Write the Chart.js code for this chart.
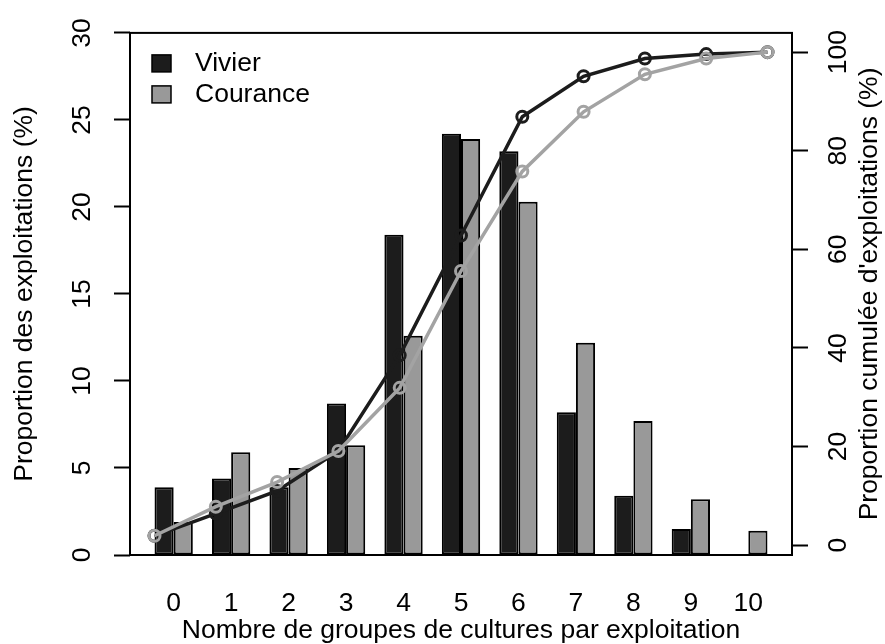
<!DOCTYPE html>
<html>
<head>
<meta charset="utf-8">
<script src="https://cdn.jsdelivr.net/npm/chart.js@4/dist/chart.umd.min.js"></script>
<style>
  html, body { margin: 0; padding: 0; background: #fff; }
  #chart { display: block; }
</style>
</head>
<body>
<canvas id="chart" width="885" height="644"></canvas>
<script>
// Nombre de groupes de cultures par exploitation
const groupes = [0, 1, 2, 3, 4, 5, 6, 7, 8, 9, 10];

// Proportion des exploitations (%) — bars
const vivierPct   = [3.9, 4.4, 3.9, 8.7, 18.4, 24.2, 23.2, 8.2, 3.4, 1.5, 0];
const courancePct = [1.9, 5.9, 5.0, 6.3, 12.6, 23.9, 20.3, 12.2, 7.7, 3.2, 1.4];

// Proportion cumulée d'exploitations (%) — lines
const vivierCum   = [1.9, 6.4, 11.0, 19.1, 38.5, 62.8, 86.9, 95.1, 98.7, 99.6, 100];
const couranceCum = [1.9, 7.8, 12.8, 19.1, 31.9, 55.6, 75.8, 87.9, 95.5, 98.7, 100];

const leftTicks  = [0, 5, 10, 15, 20, 25, 30];
const rightTicks = [0, 20, 40, 60, 80, 100];

const FONT = "'Liberation Sans', Arial, Helvetica, sans-serif";
const TXT = 26.5;
const DARK = "#1c1c1c";
const GREY = "#999999";
const LINE_GREY = "#a3a3a3";
const RIGHT_TITLE = "Proportion cumulée d'exploitations (%)";

Chart.defaults.font.family = FONT;
Chart.defaults.font.size = TXT;
Chart.defaults.color = "#000";

// R-style box around the plot region
const boxPlugin = {
  id: "rBox",
  afterDatasetsDraw(chart) {
    const { ctx, chartArea: { left, top, right, bottom } } = chart;
    ctx.save();
    ctx.strokeStyle = "#000";
    ctx.lineWidth = 2;
    ctx.strokeRect(left, top, right - left, bottom - top);
    ctx.restore();
  }
};

// legend with filled boxes, top-left inside the plot
const legendPlugin = {
  id: "rLegend",
  afterDatasetsDraw(chart) {
    const { ctx, chartArea: { left, top } } = chart;
    const bars = chart.data.datasets.filter(d => d.type === "bar");
    ctx.save();
    ctx.font = `${TXT}px ${FONT}`;
    ctx.textBaseline = "middle";
    bars.forEach((d, i) => {
      const bx = left + 22, by = top + 22 + i * 31;
      ctx.fillStyle = d.backgroundColor;
      ctx.fillRect(bx, by, 19, 17);
      ctx.strokeStyle = "#000";
      ctx.lineWidth = 1.5;
      ctx.strokeRect(bx, by, 19, 17);
      ctx.fillStyle = "#000";
      ctx.fillText(d.label, bx + 43, by + 9);
    });
    ctx.restore();
  }
};

// right axis title reads bottom to top, like the left one
const rightTitlePlugin = {
  id: "rightTitle",
  afterDraw(chart) {
    const { ctx, chartArea: { top, bottom } } = chart;
    const s = chart.scales.y1;
    ctx.save();
    ctx.font = `${TXT}px ${FONT}`;
    ctx.fillStyle = "#000";
    ctx.translate(s.right - 15, (top + bottom) / 2);
    ctx.rotate(-Math.PI / 2);
    ctx.textAlign = "center";
    ctx.textBaseline = "middle";
    ctx.fillText(RIGHT_TITLE, 0, 0);
    ctx.restore();
  }
};

// lines go first: Chart.js gives each x axis its own bar slots, so the
// x2 lines take slot 0 and the two bars land centred on the tick (slots 1-2 of 4)
const datasets = [
  {
    type: "line",
    label: "Courance cumulé",
    data: couranceCum,
    xAxisID: "x2",
    yAxisID: "y1",
    borderColor: LINE_GREY,
    borderWidth: 3.5,
    tension: 0,
    pointRadius: 5.5,
    pointBorderWidth: 3,
    pointBorderColor: LINE_GREY,
    pointBackgroundColor: "rgba(0,0,0,0)",
    order: 0,
  },
  {
    type: "line",
    label: "Vivier cumulé",
    data: vivierCum,
    xAxisID: "x2",
    yAxisID: "y1",
    borderColor: DARK,
    borderWidth: 3.5,
    tension: 0,
    pointRadius: 5.5,
    pointBorderWidth: 3,
    pointBorderColor: DARK,
    pointBackgroundColor: "rgba(0,0,0,0)",
    order: 1,
  },
  {
    type: "bar",
    label: "Vivier",
    data: vivierPct,
    xAxisID: "x",
    yAxisID: "y",
    backgroundColor: DARK,
    borderColor: "#000",
    borderWidth: 2,
    borderSkipped: false,
    order: 3,
  },
  {
    type: "bar",
    label: "Courance",
    data: courancePct,
    xAxisID: "x",
    yAxisID: "y",
    backgroundColor: GREY,
    borderColor: "#000",
    borderWidth: 2,
    borderSkipped: false,
    order: 4,
  }
];

new Chart(document.getElementById("chart"), {
  type: "bar",
  plugins: [boxPlugin, legendPlugin, rightTitlePlugin],
  data: { labels: groupes, datasets },
  options: {
    responsive: false,
    animation: false,
    devicePixelRatio: 1,
    events: [],
    layout: { padding: { top: 27, left: 0, right: 0, bottom: 0 } },
    categoryPercentage: 4 / 3,
    barPercentage: 1,
    plugins: {
      legend: { display: false },
      tooltip: { enabled: false }
    },
    scales: {
      x: {
        type: "linear",
        position: "bottom",
        min: -0.76,
        max: 10.76,
        offset: false,
        afterBuildTicks: s => { s.ticks = groupes.map(v => ({ value: v })); },
        afterFit: s => { s.height = 89; },
        grid: { display: false, drawTicks: false, offset: false },
        border: { display: false },
        ticks: { padding: 33, color: "#000", maxRotation: 0, autoSkip: false },
        title: {
          display: true,
          text: "Nombre de groupes de cultures par exploitation",
          color: "#000",
          font: { size: TXT, lineHeight: 1 },
          padding: { top: -2, bottom: 0 }
        }
      },
      x2: { type: "linear", min: -0.4, max: 10.4, display: false, offset: false },
      y: {
        position: "left",
        min: 0,
        max: 30,
        afterBuildTicks: s => { s.ticks = leftTicks.map(v => ({ value: v })); },
        afterFit: s => { s.width = 130; },
        grid: { drawOnChartArea: false, drawTicks: true, tickLength: 16, tickColor: "#000", tickWidth: 2 },
        border: { display: false },
        ticks: { minRotation: 90, maxRotation: 90, crossAlign: "center", padding: 17, color: "#000" },
        title: {
          display: true,
          text: "Proportion des exploitations (%)",
          color: "#000",
          font: { size: TXT, lineHeight: 1.2 },
          padding: { top: 9, bottom: 0 }
        }
      },
      y1: {
        position: "right",
        min: -2.0,
        max: 103.9,
        afterBuildTicks: s => { s.ticks = rightTicks.map(v => ({ value: v })); },
        afterFit: s => { s.width = 93; },
        grid: { drawOnChartArea: false, drawTicks: true, tickLength: 16, tickColor: "#000", tickWidth: 2 },
        border: { display: false },
        ticks: { minRotation: 90, maxRotation: 90, crossAlign: "center", padding: 9, color: "#000" },
        title: { display: false }
      }
    }
  }
});
</script>
</body>
</html>
